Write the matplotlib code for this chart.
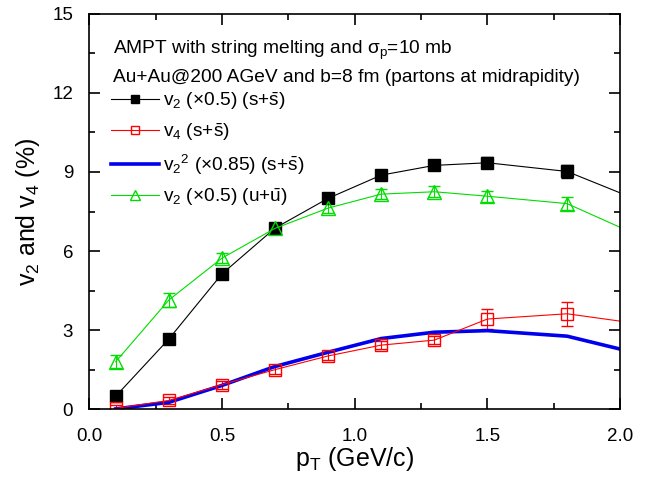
import matplotlib.pyplot as plt
from matplotlib.lines import Line2D
import numpy as np

plt.rcParams['font.family'] = ['Liberation Sans', 'DejaVu Sans']
plt.rcParams['mathtext.fontset'] = 'custom'
plt.rcParams['mathtext.rm'] = 'Liberation Sans'
plt.rcParams['mathtext.it'] = 'Liberation Sans:italic'
plt.rcParams['mathtext.sf'] = 'Liberation Sans'

# v2 (x0.5) s+sbar
pt = [0.1, 0.3, 0.5, 0.7, 0.9, 1.1, 1.3, 1.5, 1.8, 2.1]
v2_s = [0.49, 2.66, 5.13, 6.87, 8.0, 8.88, 9.25, 9.35, 9.02, 7.8]
v2_s_err = [0.1, 0.1, 0.1, 0.12, 0.12, 0.15, 0.15, 0.2, 0.25, 0.3]

# v4 s+sbar
v4_s = [0.03, 0.33, 0.93, 1.5, 2.02, 2.43, 2.62, 3.42, 3.62, 3.2]
v4_s_err = [0.12, 0.15, 0.15, 0.15, 0.15, 0.15, 0.15, 0.38, 0.46, 0.5]

# v2^2 (x0.85) s+sbar
pt_line = [0.1, 0.3, 0.5, 0.7, 0.9, 1.1, 1.3, 1.5, 1.8, 2.0]
v22_s = [0.01, 0.26, 0.9, 1.62, 2.16, 2.68, 2.92, 2.98, 2.77, 2.28]

# v2 (x0.5) u+ubar
v2_u = [1.8, 4.14, 5.73, 6.86, 7.63, 8.16, 8.25, 8.08, 7.8, 6.45]
v2_u_err = [0.25, 0.25, 0.2, 0.2, 0.2, 0.2, 0.2, 0.2, 0.25, 0.3]

labels = [r'v$_2$ ($\times$0.5) (s+$\bar{\mathrm{s}}$)',
          r'v$_4$ (s+$\bar{\mathrm{s}}$)',
          r'v$_2$$^2$ ($\times$0.85) (s+$\bar{\mathrm{s}}$)',
          r'v$_2$ ($\times$0.5) (u+$\bar{\mathrm{u}}$)']

black = 'black'
red = 'red'
blue = '#0000ee'
green = '#00dd00'

fig = plt.figure(figsize=(6.46, 4.78), dpi=100)
ax = fig.add_axes([0.138, 0.144, 0.822, 0.827])

ax.errorbar(pt, v2_s, yerr=v2_s_err, fmt='-s', color=black, lw=0.8,
            ms=9, mfc=black, mec=black, capsize=4, elinewidth=0.8)
ax.errorbar(pt, v4_s, yerr=v4_s_err, fmt='-s', color=red, lw=0.8,
            ms=9, mfc='none', mec=red, capsize=4, elinewidth=0.8)
ax.plot(pt_line, v22_s, '-', color=blue, lw=2.6)
ax.errorbar(pt, v2_u, yerr=v2_u_err, fmt='-^', color=green, lw=0.8,
            ms=10, mfc='none', mec=green, capsize=4, elinewidth=0.8)

ax.set_xlim(0, 2.0)
ax.set_ylim(0, 15)
ax.set_xticks(np.arange(0, 2.01, 0.5))
ax.set_xticks(np.arange(0, 2.01, 0.25), minor=True)
ax.set_yticks(np.arange(0, 15.1, 3))
ax.set_yticks(np.arange(0, 15.1, 1.5), minor=True)
ax.set_xticklabels(['0.0', '0.5', '1.0', '1.5', '2.0'])
ax.tick_params(which='both', direction='in', top=True, right=True,
               labelsize=13.5, width=1.2)
ax.tick_params(which='major', length=8)
ax.tick_params(which='minor', length=4)
ax.tick_params(axis='x', which='major', pad=13.5)
ax.tick_params(axis='y', which='major', pad=11.5)
for s in ax.spines.values():
    s.set_linewidth(1.2)

ax.set_xlabel(r'p$_\mathrm{T}$ (GeV/c)', fontsize=18, labelpad=0)
ax.set_ylabel(r'v$_2$ and v$_4$ (%)', fontsize=18, labelpad=7.5)

ax.text(0.045, 0.907, r'AMPT with string melting and $\mathrm{σ_p}$=10 mb',
        transform=ax.transAxes, fontsize=13.8, va='center')
ax.text(0.045, 0.840, 'Au+Au@200 AGeV and b=8 fm (partons at midrapidity)',
        transform=ax.transAxes, fontsize=13.8, va='center')

handles = [
    Line2D([], [], color=black, lw=0.8, marker='s', ms=6, mfc=black, mec=black),
    Line2D([], [], color=red, lw=0.8, marker='s', ms=6, mfc='none', mec=red),
    Line2D([], [], color=blue, lw=2.6),
    Line2D([], [], color=green, lw=0.8, marker='^', ms=7, mfc='none', mec=green),
]
ax.legend(handles, labels, loc='upper left', bbox_to_anchor=(0.041, 0.807),
          frameon=False, fontsize=13.8, handlelength=2.5, handletextpad=0.2,
          labelspacing=0.5, borderaxespad=0.0, borderpad=0.0)

fig.savefig('out.png', dpi=100)
